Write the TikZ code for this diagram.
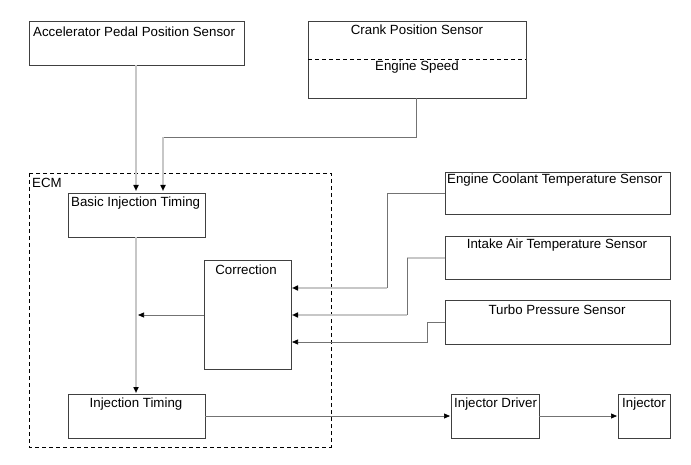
\documentclass[tikz,border=0pt]{standalone}
\usepackage{fontspec}
\setmainfont{Liberation Sans}
\usetikzlibrary{arrows.meta}
\begin{document}
\begin{tikzpicture}[x=1pt,y=-1pt,
  box/.style={draw=black!75,line width=0.9pt},
  txt/.style={inner sep=0pt,font=\fontsize{13.3}{16}\selectfont},
  lt/.style={inner sep=0pt,font=\fontsize{13.3}{16}\selectfont,anchor=base west},
  ct/.style={inner sep=0pt,font=\fontsize{13.3}{16}\selectfont,anchor=base},
  thickc/.style={draw=black!22,line width=1.8pt},
  thinc/.style={draw=black!55,line width=0.7pt},
  arr/.style={-{Triangle[length=6pt,width=5pt,color=black]}}
]
\useasboundingbox (0,0) rectangle (691,465);
% ECM dashed frame
\draw[black,line width=0.8pt,dash pattern=on 4pt off 3pt] (29,173) rectangle (331,447);
\node[lt] (ecm) at (32,188) {ECM};
% boxes
\draw[box] (29,21) rectangle (244,65);
\coordinate (accB) at (136,65);
\node[lt] (accT) at (33,37) {Accelerator Pedal Position Sensor};

\draw[box] (308,21) rectangle (526,98);
\draw[black,line width=0.7pt,dash pattern=on 4pt off 3pt] (308,59) -- (526,59);
\coordinate (crankB) at (416,98);
\node[ct] (crankT) at (417,35) {Crank Position Sensor};
\node[ct] (speedT) at (417,71) {Engine Speed};

\draw[box] (68,193) rectangle (205,237);
\node[lt] (basicT) at (71,207) {Basic Injection Timing};
\coordinate (basicT1) at (136,191);
\coordinate (basicT2) at (163,191);
\coordinate (basicB) at (136,237);

\draw[box] (68,394) rectangle (205,438);
\node[ct] (injT) at (136,407) {Injection Timing};
\coordinate (injTop) at (136,393);
\coordinate (injR) at (205,416);

\draw[box] (204,260) rectangle (291,369);
\node[ct] (corrT) at (246,274) {Correction};
\coordinate (corrL) at (204,315);
\coordinate (corrIn1) at (292,288);
\coordinate (corrIn2) at (292,315);
\coordinate (corrIn3) at (292,342);
\coordinate (mainJoin) at (138,315);

\draw[box] (445,172) rectangle (670,214);
\node[lt] (ectT) at (447,184) {Engine Coolant Temperature Sensor};
\coordinate (ectL) at (445,193);

\draw[box] (445,236) rectangle (670,279);
\node[ct] (iatT) at (557,249) {Intake Air Temperature Sensor};
\coordinate (iatL) at (445,258);

\draw[box] (445,300) rectangle (670,344);
\node[ct] (turboT) at (557,314) {Turbo Pressure Sensor};
\coordinate (turboL) at (445,322);

\draw[box] (451,394) rectangle (539,438);
\node[lt] (drvT) at (454,407) {Injector Driver};
\coordinate (drvL) at (450,416);
\coordinate (drvR) at (539,416);

\draw[box] (618,394) rectangle (670,438);
\node[lt] (injrT) at (622,407) {Injector};
\coordinate (injrL) at (617,416);

% connectors
\draw[thickc,arr] (accB) -- (basicT1);
\draw[thinc] (crankB) -- (416,137) -- (163,137) coordinate (ck);
\draw[thickc,arr] (ck) -- (basicT2);
\draw[thickc,arr] (basicB) -- (injTop);
\draw[thinc,arr] (corrL) -- (mainJoin);
\draw[thinc] (ectL) -- (387,193) -- (387,288) coordinate (e1);
\draw[thickc,arr] (e1) -- (corrIn1);
\draw[thickc] (iatL) -- (407,258) coordinate (i0);
\draw[thinc] (i0) -- (407,315) coordinate (i1);
\draw[thickc,arr] (i1) -- (corrIn2);
\draw[thinc,arr] (turboL) -- (427,322) -- (427,342) -- (corrIn3);
\draw[thinc,arr] (injR) -- (drvL);
\draw[thinc,arr] (drvR) -- (injrL);
\end{tikzpicture}
\end{document}
